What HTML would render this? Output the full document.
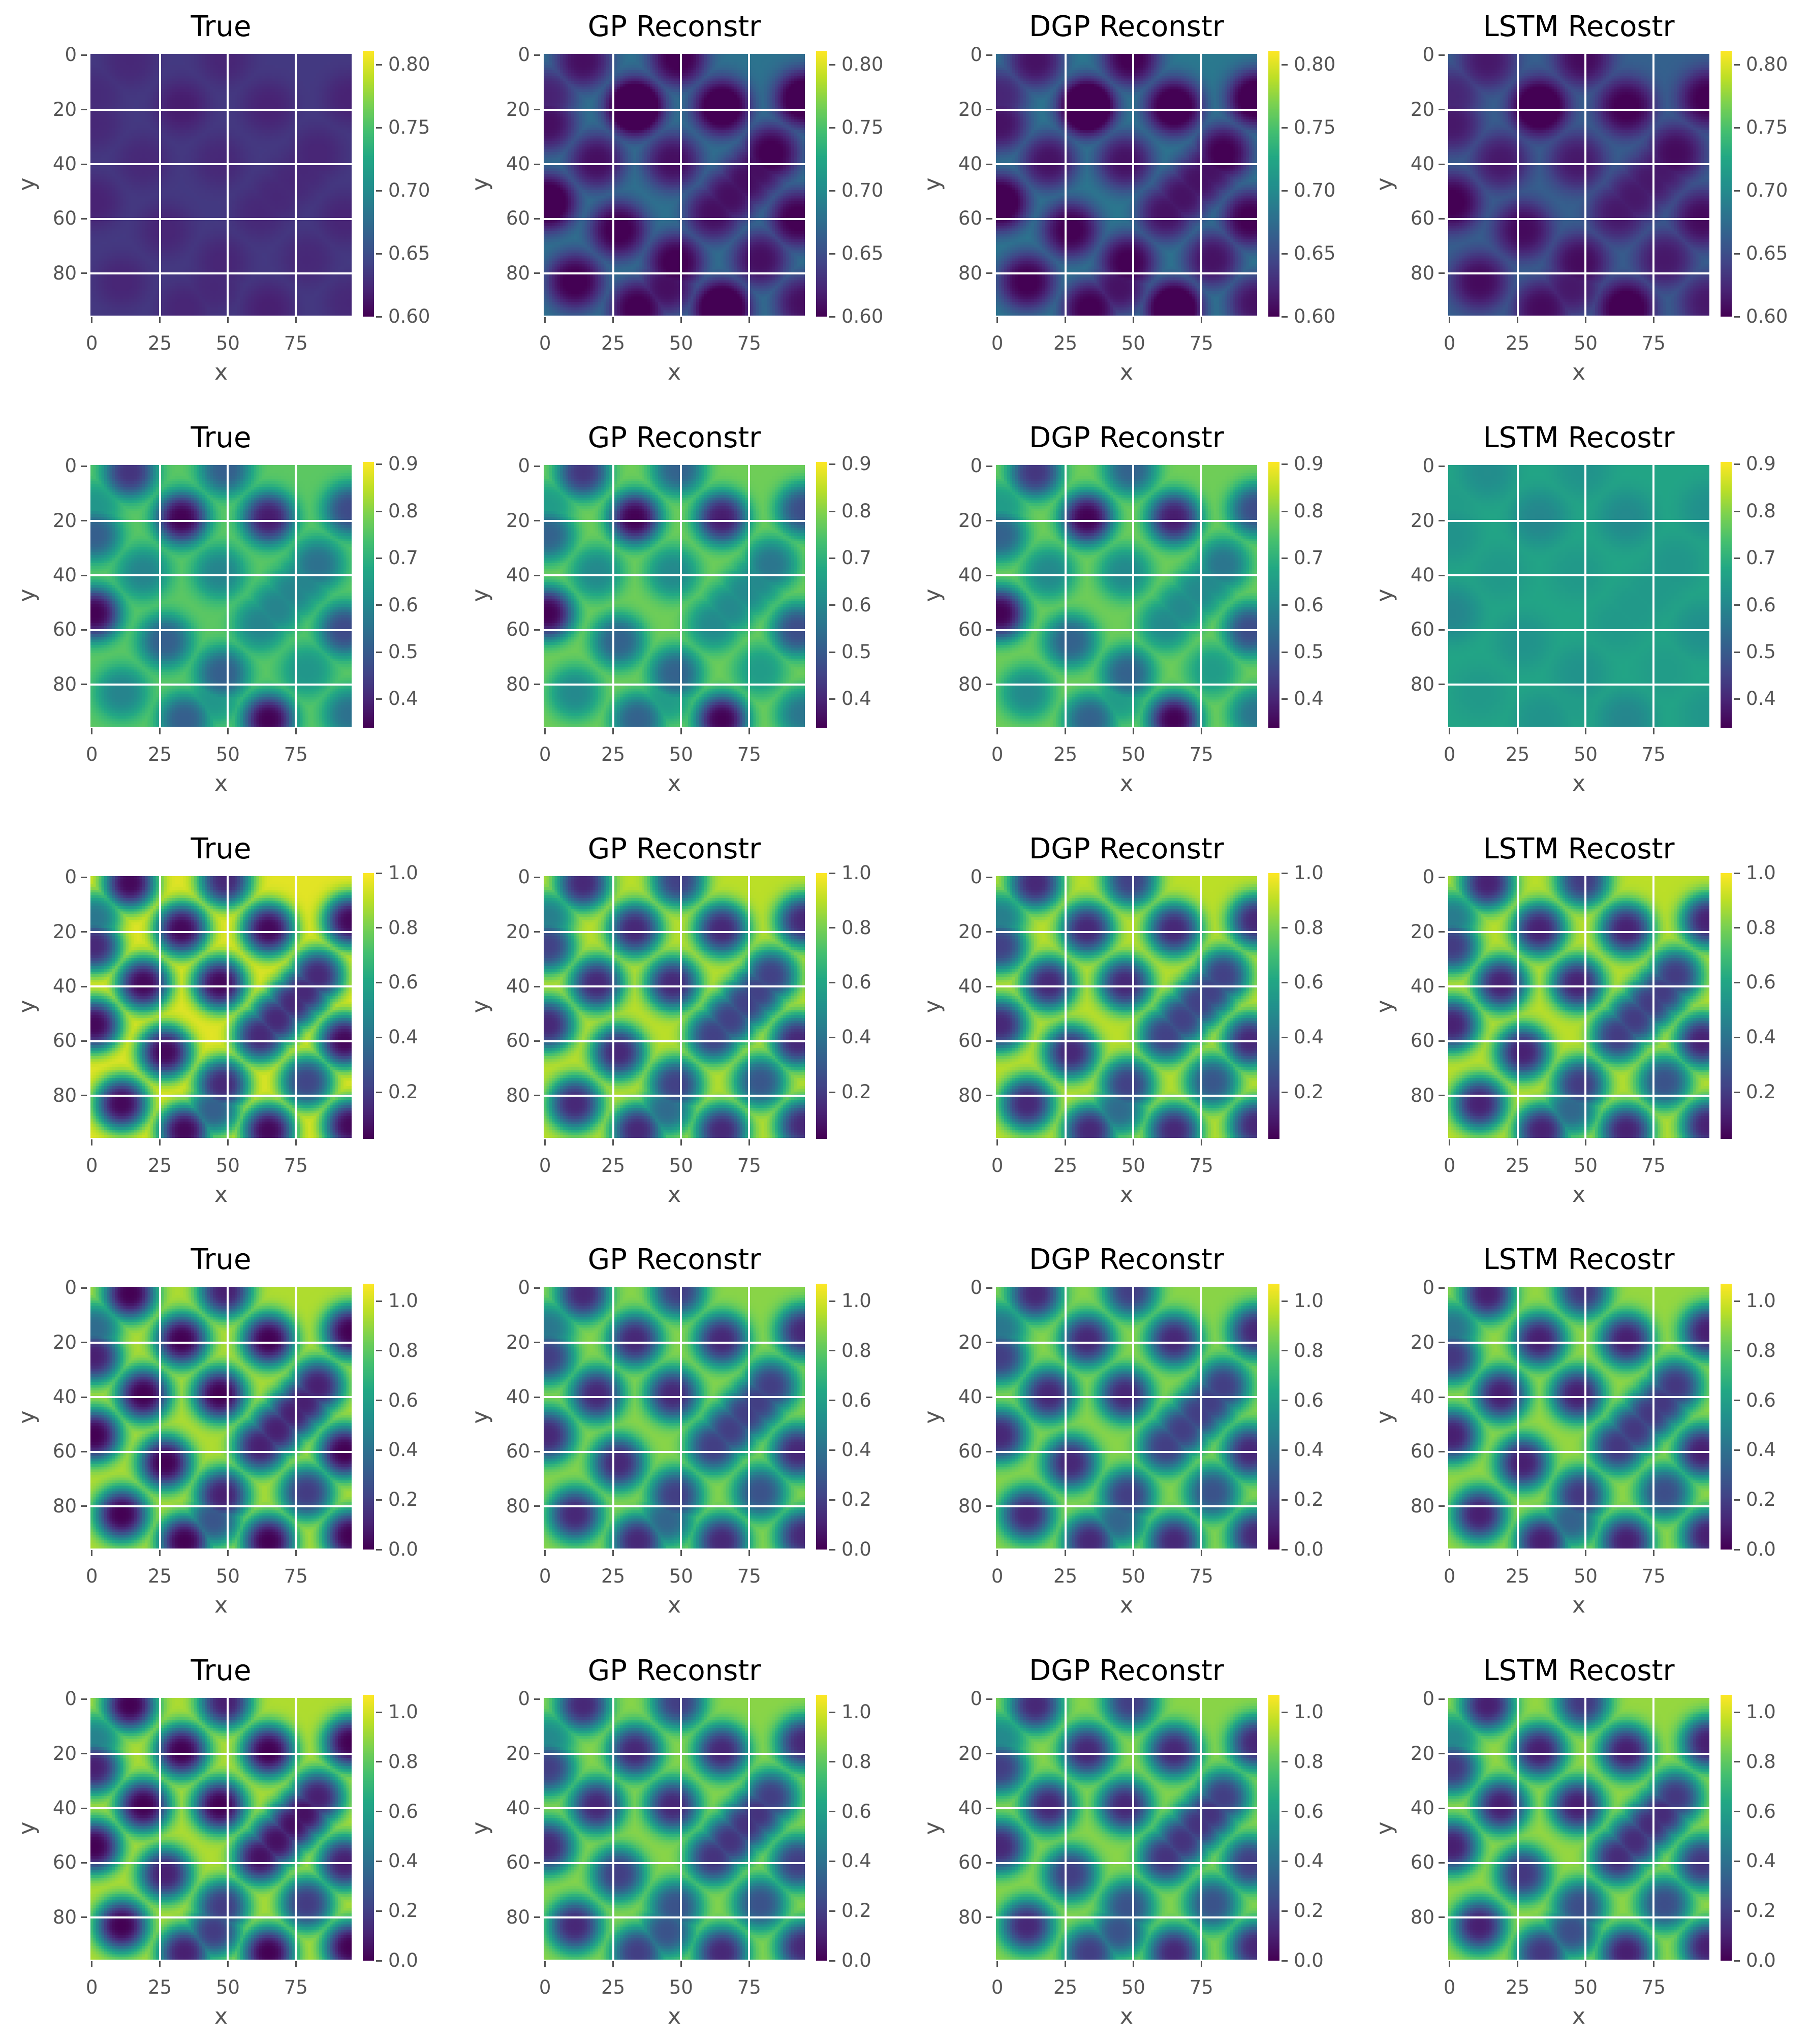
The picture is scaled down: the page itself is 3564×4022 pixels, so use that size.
<!DOCTYPE html>
<html><head><meta charset="utf-8">
<style>
html,body{margin:0;padding:0;background:#fff;}
#fig{position:relative;width:3564px;height:4022px;overflow:hidden;background:#fff;font-family:"DejaVu Sans","Liberation Sans",sans-serif;}
.t{position:absolute;white-space:nowrap;color:#555;}
canvas{position:absolute;image-rendering:pixelated;}
.ln{position:absolute;background:#fff;}
.tk{position:absolute;background:#555;}
</style></head>
<body>
<div id="fig"></div>
<script>
// ---- data ----
const models = ["True","GP Reconstr","DGP Reconstr","LSTM Recostr"];
const spotX = [14,33,49,65,95,1,19,47,83,1,27,62,68,74,78,93,11,48,45,79,65,34,95,1];
const spotY = [2,19,1,19,16,25,39,39,36,54,64,58,52,46,42,60,83,76,85,75,93,93,91,15];
const ampRow1 = [0.6,1,0.7,0.8,0.8,0.6,0.6,0.6,0.7,0.8,0.7,0.6,0.6,0.6,0.6,0.7,0.7,0.7,0.6,0.6,0.9,0.7,0.6,0.5];
const ampRow2 = [0.8,1,0.6,0.9,0.7,0.6,0.4,0.4,0.5,1,0.6,0.4,0.4,0.4,0.4,0.7,0.4,0.6,0.3,0.3,1,0.6,0.5,0.3];
const ampRow3 = [1,1,0.9,1,1,0.9,1,1,0.9,1,1,0.9,0.9,0.9,0.9,1,1,0.9,0.7,0.8,1,1,1,0.6];
const ampRow4 = [1,1,0.9,1,1,0.9,1,1,0.9,1,1,0.9,0.9,0.9,0.9,1,1,0.9,0.7,0.8,1,1,1,0.6];
const ampRow5 = [1,1,0.9,1,1,0.9,1,1,0.9,1,0.9,0.95,0.95,0.95,0.95,0.9,1,0.8,0.8,0.8,1,0.9,1,0.5];
const rowAmps = [ampRow1,ampRow2,ampRow3,ampRow4,ampRow5];
const cbMin = [0.60,0.339,0.03,0.0,0.0];
const cbMax = [0.811,0.905,1.0,1.07,1.07];
const cbTicks = [[0.60,0.65,0.70,0.75,0.80],[0.4,0.5,0.6,0.7,0.8,0.9],[0.2,0.4,0.6,0.8,1.0],[0.0,0.2,0.4,0.6,0.8,1.0],[0.0,0.2,0.4,0.6,0.8,1.0]];
const cbDigits = [2,1,1,1,1];
const baseVals = [[0.635,0.68,0.685,0.665],[0.76,0.78,0.78,0.67],[0.96,0.90,0.90,0.90],[0.94,0.88,0.88,0.90],[0.94,0.88,0.88,0.90]];
const floorVals = [[0.612,0.56,0.56,0.58],[0.34,0.34,0.34,0.55],[0.05,0.10,0.10,0.08],[0.0,0.08,0.08,0.05],[0.0,0.08,0.08,0.05]];
const gainVals = [[0.8,1,1,1],[1,1,1,0.6],[1,0.95,0.95,0.95],[1,0.95,0.95,0.95],[1,0.95,0.95,0.95]];
const spreadVals = [[7,8,8,8],[7,7,7,7.5],[7,7,7,7],[7,7,7,7],[7,7,7,7]];
const xTicks = [0,25,50,75];
const yTicks = [0,20,40,60,80];

// ---- layout ----
const colX = [178,1070,1960,2850];
const rowY = [106,915,1724,2532,3341];
const W = 514, H = 515, N = 96;
const fig = document.getElementById('fig');
const vir = ["#440154","#482475","#414487","#355f8d","#2a788e","#21918c","#22a884","#44bf70","#7ad151","#bddf26","#fde725"].map(h=>[parseInt(h.slice(1,3),16),parseInt(h.slice(3,5),16),parseInt(h.slice(5,7),16)]);
function viridis(t){t=Math.max(0,Math.min(1,t));const f=t*10,i=Math.min(9,Math.floor(f)),r=f-i;return vir[i].map((c,k)=>Math.round(c+(vir[i+1][k]-c)*r));}
function txt(s,x,y,size,color,align,name){const d=document.createElement('div');d.className='t';d.textContent=s;d.style.fontSize=size+'px';d.style.color=color;d.style.left=x+'px';d.style.top=(y-size*0.6)+'px';
 if(align==='c')d.style.transform='translateX(-50%)';else if(align==='r')d.style.transform='translateX(-100%)';
 
 
 fig.appendChild(d);return d;}
function box(cls,x,y,w,h,name){const d=document.createElement('div');d.className=cls;d.style.left=x+'px';d.style.top=y+'px';d.style.width=w+'px';d.style.height=h+'px';
 
 
 fig.appendChild(d);return d;}

for(let r=0;r<5;r++){
 const amps=rowAmps[r], lo=cbMin[r], hi=cbMax[r];
 for(let c=0;c<4;c++){
  const X0=colX[c], Y0=rowY[r];
  const sx=v=>X0+(v+0.5)*W/N, sy=v=>Y0+(v+0.5)*H/N;
  txt(models[c],X0+W/2,Y0-52,56,'#000','c','panel-title');
  const cv=document.createElement('canvas');cv.width=N;cv.height=N;
  cv.style.left=X0+'px';cv.style.top=Y0+'px';cv.style.width=W+'px';cv.style.height=H+'px';
  
  
  fig.appendChild(cv);
  const ctx=cv.getContext('2d'),img=ctx.createImageData(N,N);
  const b=baseVals[r][c],fl=floorVals[r][c],g=gainVals[r][c],s=spreadVals[r][c];
  for(let j=0;j<N;j++)for(let i=0;i<N;i++){
   let m=0;
   for(let k=0;k<spotX.length;k++){const dx=i-spotX[k],dy=j-spotY[k];const q=(dx*dx+dy*dy)/(2*s*s);const e=Math.min(1,amps[k]*g)*Math.exp(-Math.pow(q,1.5));if(e>m)m=e;}
   const v=fl+(b-fl)*(1-m), col=viridis((v-lo)/(hi-lo)), o=(j*N+i)*4;
   img.data[o]=col[0];img.data[o+1]=col[1];img.data[o+2]=col[2];img.data[o+3]=255;}
  ctx.putImageData(img,0,0);
  xTicks.forEach(v=>{if(v>0)box('ln',sx(v)-2,Y0,4,H,'grid-line-x');});
  yTicks.forEach(v=>{if(v>0)box('ln',X0,sy(v)-2,W,4,'grid-line-y');});
  xTicks.forEach(v=>{box('tk',sx(v)-1.5,Y0+H+3,3,12,'x-tick');txt(String(v),sx(v),Y0+H+55,37,'#555','c','x-tick-label');});
  yTicks.forEach(v=>{box('tk',X0-19,sy(v)-1.5,12,3,'y-tick');txt(String(v),X0-27,sy(v),37,'#555','r','y-tick-label');});
  txt('x',X0+W/2,Y0+H+112,44,'#555','c','x-axis-title');
  const yl=txt('y',X0-125,Y0+H/2,44,'#555','c','y-axis-title');yl.style.transform='translateX(-50%) rotate(-90deg)';
  const cbx=X0+W+22, cby=Y0-6, cbh=523, cbw=22;
  const cb=document.createElement('canvas');cb.width=1;cb.height=256;
  cb.style.left=cbx+'px';cb.style.top=cby+'px';cb.style.width=cbw+'px';cb.style.height=cbh+'px';cb.style.imageRendering='auto';
  
  
  fig.appendChild(cb);
  const cc=cb.getContext('2d');for(let k=0;k<256;k++){const col=viridis(1-k/255);cc.fillStyle='rgb('+col.join(',')+')';cc.fillRect(0,k,1,1);}
  const cy=v=>cby+cbh*(hi-v)/(hi-lo);
  cbTicks[r].forEach(v=>{box('tk',cbx+cbw+4,cy(v)-1.5,12,3,'colorbar-tick');txt(v.toFixed(cbDigits[r]),cbx+cbw+28,cy(v),37,'#555','l','colorbar-tick-label');});
 }
}
</script>
</body></html>
